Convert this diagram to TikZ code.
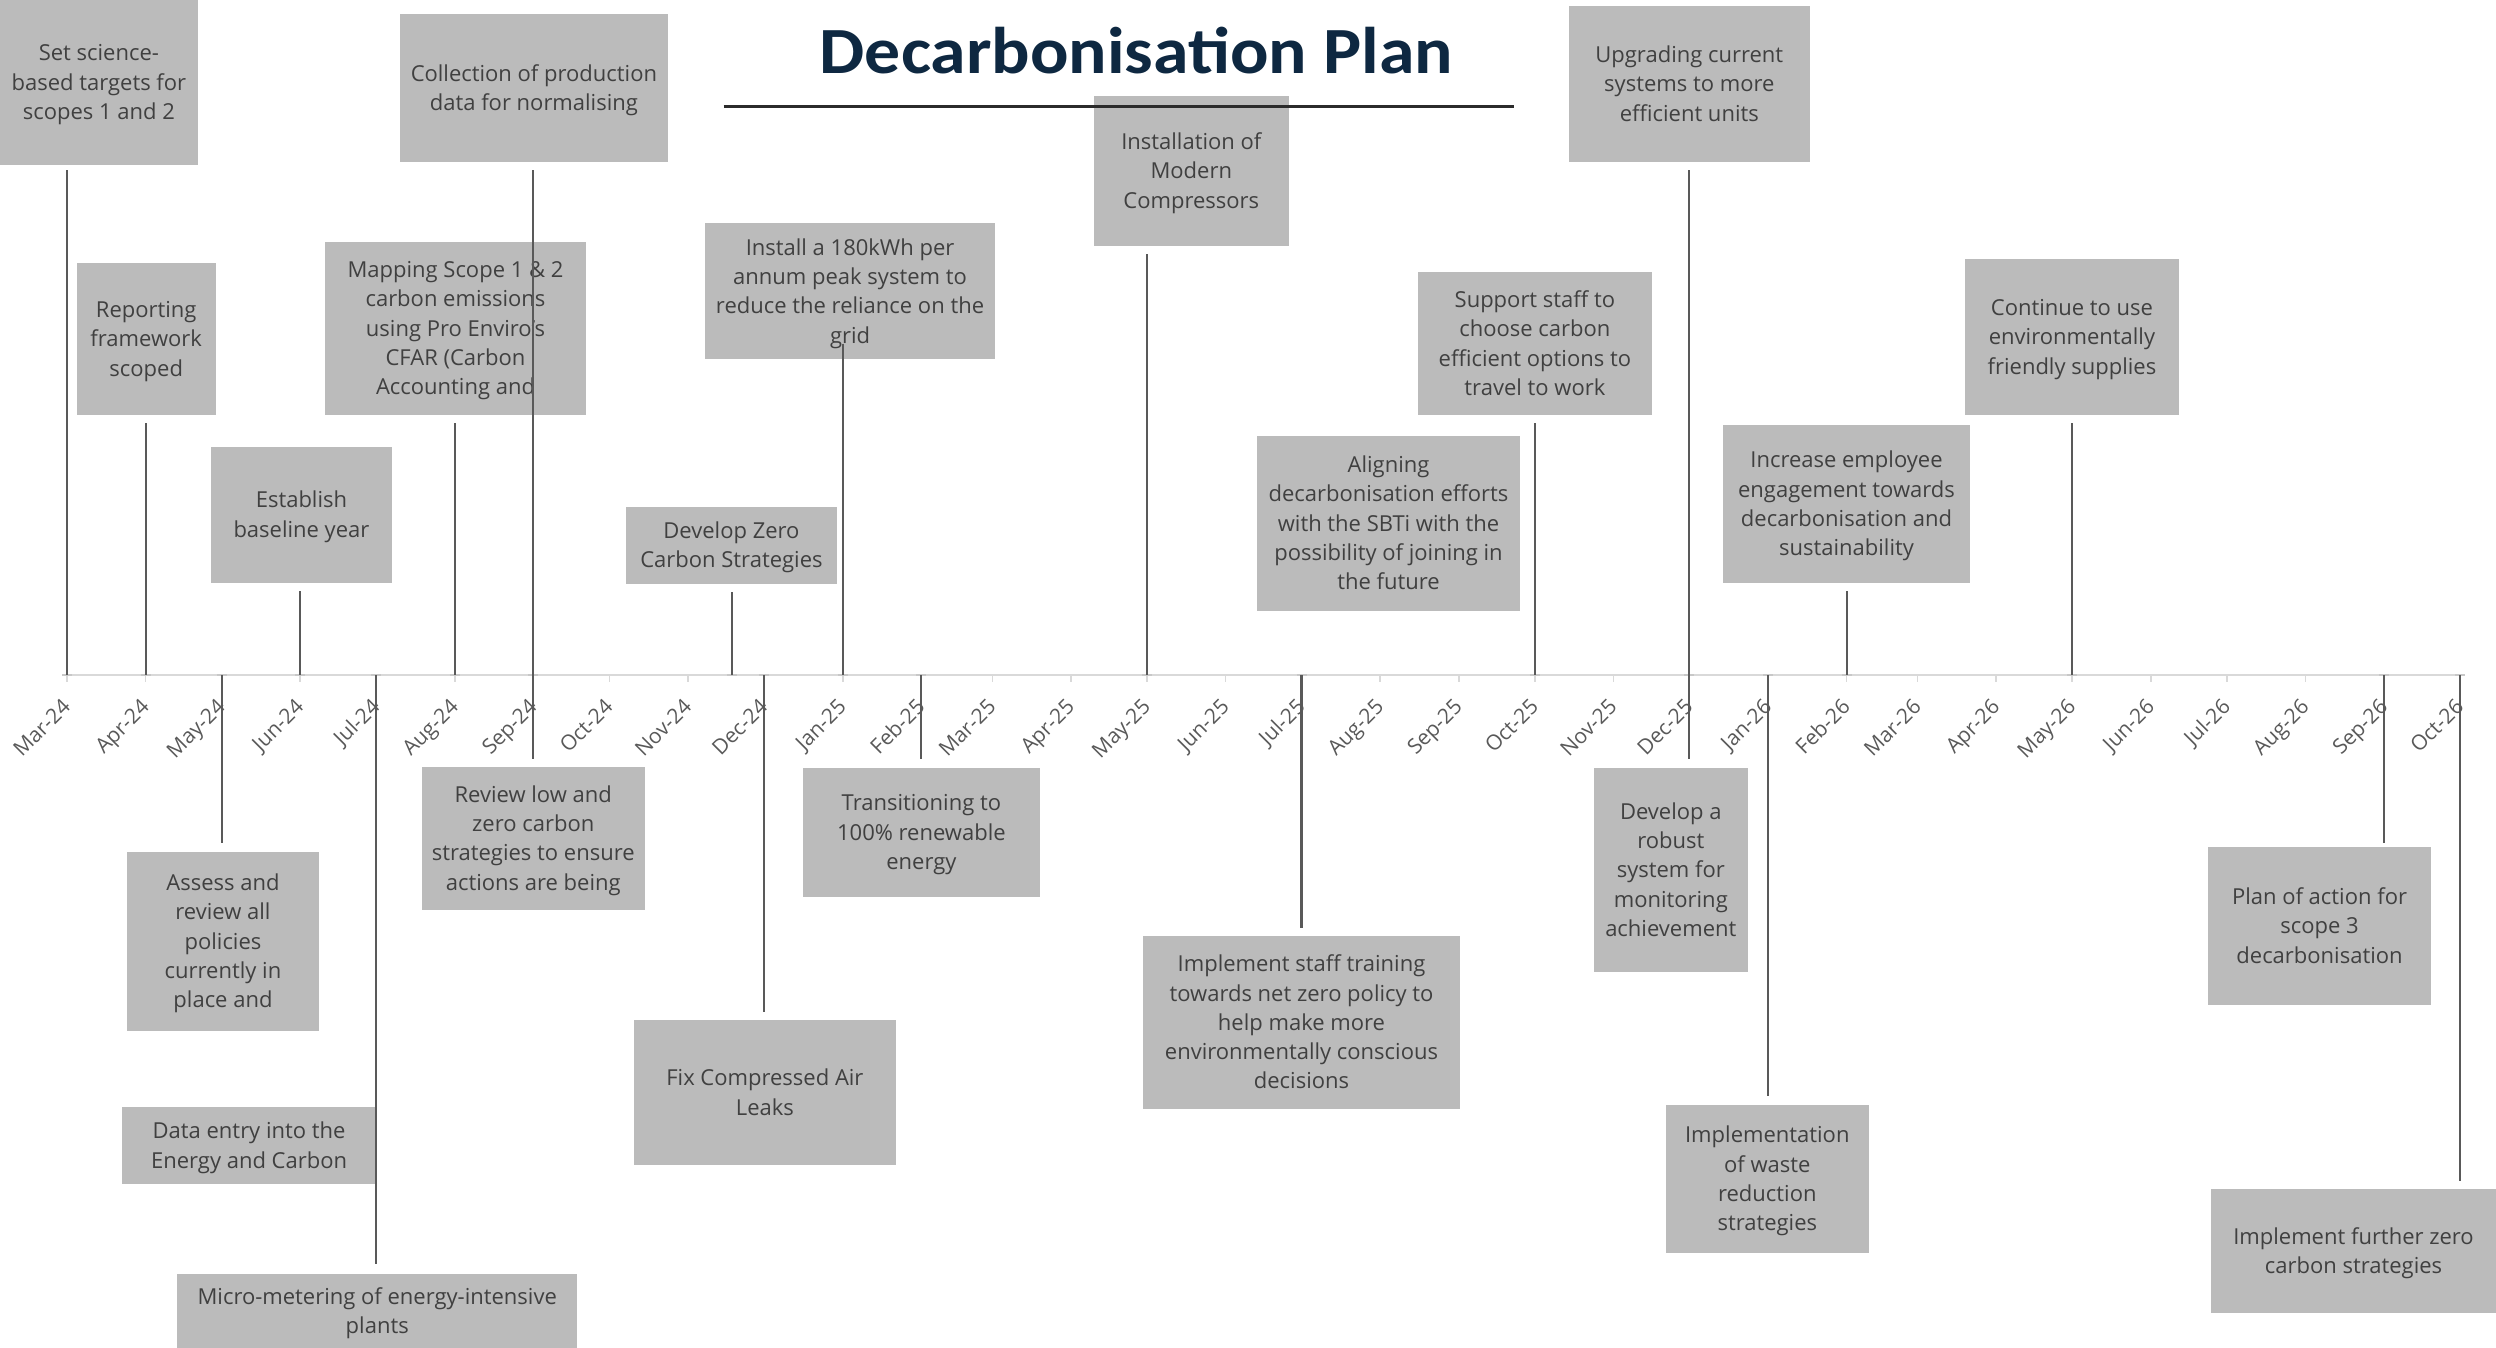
\documentclass[tikz,border=0pt]{standalone}
\usepackage{fontspec}
\usepackage{graphicx}
\setmainfont{Open Sans}
\newfontfamily\titlefont{Carlito}
\usetikzlibrary{calc}
\definecolor{boxfill}{HTML}{BBBBBB}
\definecolor{boxtext}{HTML}{404040}
\definecolor{connc}{HTML}{595959}
\definecolor{axisc}{HTML}{D9D9D9}
\definecolor{capc}{HTML}{C8C8C8}
\definecolor{labc}{HTML}{595959}
\definecolor{titlec}{HTML}{0E2841}
\definecolor{rulec}{HTML}{2B2B2B}
\tikzset{
 evbox/.style={rectangle, fill=boxfill, draw=none, inner sep=0pt, align=center, text=boxtext, font=\fontsize{11pt}{14.65pt}\selectfont},
 conn/.style={draw=connc, line width=1.05pt},
 axisline/.style={draw=axisc, line width=1.1pt},
 tickmark/.style={draw=axisc, line width=0.8pt},
 capmark/.style={draw=capc, line width=1.2pt},
 mlab/.style={rotate=45, anchor=base east, inner sep=0pt, text=labc, font=\fontsize{10.5pt}{12pt}\selectfont},
 titlenode/.style={anchor=base, inner sep=0pt, text=titlec, font=\titlefont\bfseries\fontsize{33pt}{36pt}\selectfont},
 titlerule/.style={draw=rulec, line width=1.5pt},
}
\newcommand{\evbox}[6]{%
  \pgfmathsetmacro{\evw}{(#4-#2)/2}%
  \pgfmathsetmacro{\evh}{(#5-#3)/2}%
  \node[evbox, minimum width=\evw pt, minimum height=\evh pt] (#1) at ({(#2+#4)/2},{(#3+#5)/2}) {\rule{0pt}{10.5pt}#6\rule[-2.5pt]{0pt}{0pt}};}
\begin{document}
\begin{tikzpicture}[x=0.5pt,y=-0.5pt]
\useasboundingbox (0,0) rectangle (2496,1348);

% boxes above the axis
\evbox{A1}{0}{0}{197.8}{164.7}{Set science-\\based targets for\\scopes 1 and 2}
\evbox{A2}{76.8}{263}{215.7}{414.7}{Reporting\\framework\\scoped}
\evbox{A3}{210.9}{446.7}{392}{582.7}{Establish\\baseline year}
\evbox{A4}{325}{242}{586}{414.7}{Mapping Scope 1 \& 2\\carbon emissions\\using Pro Enviro’s\\CFAR (Carbon\\Accounting and}
\evbox{A5}{400}{14}{667.8}{161.7}{Collection of production\\data for normalising}
\evbox{A6}{626}{507}{836.9}{583.7}{Develop Zero\\Carbon Strategies}
\evbox{A7}{705.2}{223.3}{994.9}{359.3}{Install a 180kWh per\\annum peak system to\\reduce the reliance on the\\grid}
\evbox{A8}{1094}{96.3}{1288.6}{245.7}{Installation of\\Modern\\Compressors}
\evbox{A9}{1257.2}{435.7}{1519.8}{610.7}{Aligning\\decarbonisation efforts\\with the SBTi with the\\possibility of joining in\\the future}
\evbox{A10}{1417.9}{272}{1651.9}{414.7}{Support staff to\\choose carbon\\efficient options to\\travel to work}
\evbox{A11}{1569.1}{6}{1809.5}{161.7}{Upgrading current\\systems to more\\efficient units}
\evbox{A12}{1723.1}{425}{1969.9}{582.7}{Increase employee\\engagement towards\\decarbonisation and\\sustainability}
\evbox{A13}{1965.1}{259}{2178.8}{414.7}{Continue to use\\environmentally\\friendly supplies}

% boxes below the axis
\evbox{B1}{126.9}{852}{319.1}{1030.7}{Assess and\\review all\\policies\\currently in\\place and}
\evbox{B2}{122.2}{1107.3}{376}{1183.7}{Data entry into the\\Energy and Carbon}
\evbox{B3}{177.1}{1274}{577.4}{1348}{Micro-metering of energy-intensive\\plants}
\evbox{B4}{421.8}{766.7}{644.7}{909.7}{Review low and\\zero carbon\\strategies to ensure\\actions are being}
\evbox{B5}{634}{1020.3}{895.8}{1164.7}{Fix Compressed Air\\Leaks}
\evbox{B6}{803}{768}{1039.8}{896.7}{Transitioning to\\100\% renewable\\energy}
\evbox{B7}{1142.9}{936}{1460.1}{1108.7}{Implement staff training\\towards net zero policy to\\help make more\\environmentally conscious\\decisions}
\evbox{B8}{1593.8}{768}{1747.8}{971.7}{Develop a\\robust\\system for\\monitoring\\achievement}
\evbox{B9}{1665.8}{1105}{1868.8}{1252.7}{Implementation\\of waste\\reduction\\strategies}
\evbox{B10}{2207.9}{847}{2431.1}{1004.7}{Plan of action for\\scope 3\\decarbonisation}
\evbox{B11}{2211}{1189}{2496}{1312.7}{Implement further zero\\carbon strategies}

% title
\node[titlenode] (title) at (1136.5,74) {\scalebox{1.087}[1]{Decarbonisation Plan}};
\coordinate (ulL) at (723.5,106.7);
\coordinate (ulR) at (1513.8,106.7);
\draw[titlerule] (ulL) -- (ulR);

% axis
\coordinate (axL) at (66,675);
\coordinate (axR) at (2463,675);
\draw[axisline] (axL) -- (axR);
\foreach \x/\lab [count=\i from 0] in {67/Mar-24,145.6/Apr-24,221.6/May-24,300.2/Jun-24,376.3/Jul-24,454.9/Aug-24,533.4/Sep-24,609.5/Oct-24,688.1/Nov-24,764.1/Dec-24,842.7/Jan-25,921.3/Feb-25,992.3/Mar-25,1070.9/Apr-25,1146.9/May-25,1225.5/Jun-25,1301.5/Jul-25,1380.1/Aug-25,1458.7/Sep-25,1534.8/Oct-25,1613.4/Nov-25,1689.4/Dec-25,1768/Jan-26,1846.6/Feb-26,1917.6/Mar-26,1996.1/Apr-26,2072.2/May-26,2150.8/Jun-26,2226.8/Jul-26,2305.4/Aug-26,2384/Sep-26,2460/Oct-26}{
  \coordinate (t\i) at (\x,675);
  \draw[tickmark] (t\i) -- ++(0,7);
  \node[mlab] (lab\i) at (\x+5,708) {\lab};
}
\coordinate (tA6) at (731.8,675);
\foreach \c in {t0,t1,t2,t3,t4,t5,t6,tA6,t9,t10,t11,t14,t16,t19,t21,t22,t23,t26,t30,t31}{
  \draw[capmark] ([xshift=-2.5pt]\c) -- ([xshift=2.5pt]\c);
}

% connectors above
\draw[conn] ($(A1.south -| t0)+(0,5.3)$) -- (t0);
\draw[conn] ($(A2.south -| t1)+(0,8)$) -- (t1);
\draw[conn] ($(A3.south -| t3)+(0,8)$) -- (t3);
\draw[conn] ($(A4.south -| t5)+(0,8)$) -- (t5);
\draw[conn] ($(A5.south -| t6)+(0,8)$) -- (t6);
\draw[conn] ($(A6.south -| tA6)+(0,8)$) -- (tA6);
\draw[conn] ($(A7.south -| t10)+(0,-16)$) -- (t10);
\draw[conn] ($(A8.south -| t14)+(0,8)$) -- (t14);
\draw[conn] ($(A10.south -| t19)+(0,8)$) -- (t19);
\draw[conn] ($(A11.south -| t21)+(0,8)$) -- (t21);
\draw[conn] ($(A12.south -| t23)+(0,8)$) -- (t23);
\draw[conn] ($(A13.south -| t26)+(0,8)$) -- (t26);
% connectors below
\draw[conn] (t2) -- ($(B1.north -| t2)+(0,-8.7)$);
\draw[conn] (t4) -- ($(B2.north -| t4)+(0,-10)$);
\draw[conn] (t4) -- ($(B3.north -| t4)+(0,-9.3)$);
\draw[conn] (t6) -- ($(B4.north -| t6)+(0,-7.4)$);
\draw[conn] (t9) -- ($(B5.north -| t9)+(0,-8)$);
\draw[conn] (t11) -- ($(B6.north -| t11)+(0,-8.7)$);
\draw[conn] (t16) -- ($(B7.north -| t16)+(0,-8)$);
\draw[conn] (t21) -- ($(B8.north -| t21)+(0,-8.7)$);
\draw[conn] (t22) -- ($(B9.north -| t22)+(0,-8.7)$);
\draw[conn] (t30) -- ($(B10.north -| t30)+(0,-3.7)$);
\draw[conn] (t31) -- ($(B11.north -| t31)+(0,-7.7)$);
\end{tikzpicture}
\end{document}
